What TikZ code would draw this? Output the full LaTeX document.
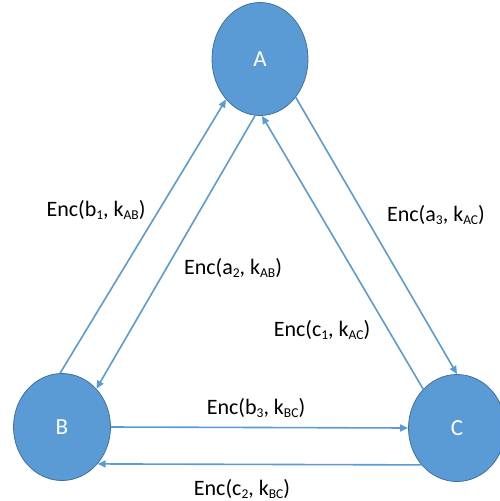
\documentclass[tikz,border=0pt]{standalone}
\usepackage{fontspec}
\setmainfont{Carlito}
\usetikzlibrary{arrows.meta,shapes.geometric}
\definecolor{nodefill}{HTML}{5B9BD5}
\definecolor{nodeedge}{HTML}{41719C}
\definecolor{link}{HTML}{5B9BD5}
% small lowered index for message labels
\newcommand{\idx}[1]{\raisebox{-2.5pt}{\fontsize{13.5}{14}\selectfont #1}}
\begin{document}
\begin{tikzpicture}[x=1pt,y=-1pt,
  party/.style={ellipse, fill=nodefill, draw=nodeedge, line width=0.8pt,
    inner sep=0pt, text=white, font=\fontsize{23}{27}\selectfont},
  msg/.style={draw=link, line width=1.6pt, -{Triangle[length=8pt,width=7pt]}},
  lbl/.style={font=\fontsize{22}{26}\selectfont, inner sep=0pt}]
\useasboundingbox (0,0) rectangle (500,501);

% the three parties
\node[party, minimum width=96pt, minimum height=113pt] (A) at (260,59) {A};
\node[party, minimum width=97pt, minimum height=107pt] (B) at (62,427) {B};
\node[party, minimum width=97pt, minimum height=107pt] (C) at (457,428) {C};

% messages between A and B
\draw[msg] (B.92) -- (A.230);
\draw[msg] (A.265) -- (B.48);
% messages between A and C
\draw[msg] (A.313) -- (C.90);
\draw[msg] (C.131) -- (A.272);
% messages between B and C
\draw[msg] (B.0) -- (C.180);
\draw[msg] (C.226) -- (B.314);

% message labels
\node[lbl] (lb1) at (96,210) {Enc(b\idx{1}, k\idx{AB})};
\node[lbl] (la2) at (233,268) {Enc(a\idx{2}, k\idx{AB})};
\node[lbl] (la3) at (436,215) {Enc(a\idx{3}, k\idx{AC})};
\node[lbl] (lc1) at (322,330) {Enc(c\idx{1}, k\idx{AC})};
\node[lbl] (lb3) at (256,408) {Enc(b\idx{3}, k\idx{BC})};
\node[lbl] (lc2) at (242,489) {Enc(c\idx{2}, k\idx{BC})};
\end{tikzpicture}
\end{document}
